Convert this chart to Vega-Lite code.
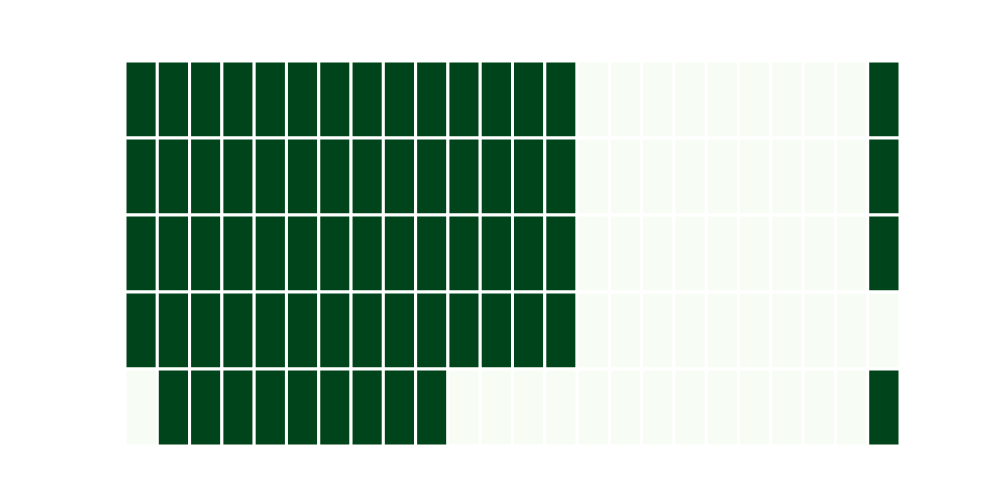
{
  "$schema": "https://vega.github.io/schema/vega-lite/v6.json",
  "width": 775,
  "height": 385,
  "autosize": "none",
  "padding": {"left": 125, "top": 61, "right": 100, "bottom": 54},
  "background": "white",
  "config": {"view": {"stroke": null}},
  "data": {"values": [
    {"r":0,"c":0,"v":1},{"r":0,"c":1,"v":1},{"r":0,"c":2,"v":1},{"r":0,"c":3,"v":1},{"r":0,"c":4,"v":1},{"r":0,"c":5,"v":1},{"r":0,"c":6,"v":1},{"r":0,"c":7,"v":1},{"r":0,"c":8,"v":1},{"r":0,"c":9,"v":1},{"r":0,"c":10,"v":1},{"r":0,"c":11,"v":1},{"r":0,"c":12,"v":1},{"r":0,"c":13,"v":1},{"r":0,"c":14,"v":0},{"r":0,"c":15,"v":0},{"r":0,"c":16,"v":0},{"r":0,"c":17,"v":0},{"r":0,"c":18,"v":0},{"r":0,"c":19,"v":0},{"r":0,"c":20,"v":0},{"r":0,"c":21,"v":0},{"r":0,"c":22,"v":0},{"r":0,"c":23,"v":1},
    {"r":1,"c":0,"v":1},{"r":1,"c":1,"v":1},{"r":1,"c":2,"v":1},{"r":1,"c":3,"v":1},{"r":1,"c":4,"v":1},{"r":1,"c":5,"v":1},{"r":1,"c":6,"v":1},{"r":1,"c":7,"v":1},{"r":1,"c":8,"v":1},{"r":1,"c":9,"v":1},{"r":1,"c":10,"v":1},{"r":1,"c":11,"v":1},{"r":1,"c":12,"v":1},{"r":1,"c":13,"v":1},{"r":1,"c":14,"v":0},{"r":1,"c":15,"v":0},{"r":1,"c":16,"v":0},{"r":1,"c":17,"v":0},{"r":1,"c":18,"v":0},{"r":1,"c":19,"v":0},{"r":1,"c":20,"v":0},{"r":1,"c":21,"v":0},{"r":1,"c":22,"v":0},{"r":1,"c":23,"v":1},
    {"r":2,"c":0,"v":1},{"r":2,"c":1,"v":1},{"r":2,"c":2,"v":1},{"r":2,"c":3,"v":1},{"r":2,"c":4,"v":1},{"r":2,"c":5,"v":1},{"r":2,"c":6,"v":1},{"r":2,"c":7,"v":1},{"r":2,"c":8,"v":1},{"r":2,"c":9,"v":1},{"r":2,"c":10,"v":1},{"r":2,"c":11,"v":1},{"r":2,"c":12,"v":1},{"r":2,"c":13,"v":1},{"r":2,"c":14,"v":0},{"r":2,"c":15,"v":0},{"r":2,"c":16,"v":0},{"r":2,"c":17,"v":0},{"r":2,"c":18,"v":0},{"r":2,"c":19,"v":0},{"r":2,"c":20,"v":0},{"r":2,"c":21,"v":0},{"r":2,"c":22,"v":0},{"r":2,"c":23,"v":1},
    {"r":3,"c":0,"v":1},{"r":3,"c":1,"v":1},{"r":3,"c":2,"v":1},{"r":3,"c":3,"v":1},{"r":3,"c":4,"v":1},{"r":3,"c":5,"v":1},{"r":3,"c":6,"v":1},{"r":3,"c":7,"v":1},{"r":3,"c":8,"v":1},{"r":3,"c":9,"v":1},{"r":3,"c":10,"v":1},{"r":3,"c":11,"v":1},{"r":3,"c":12,"v":1},{"r":3,"c":13,"v":1},{"r":3,"c":14,"v":0},{"r":3,"c":15,"v":0},{"r":3,"c":16,"v":0},{"r":3,"c":17,"v":0},{"r":3,"c":18,"v":0},{"r":3,"c":19,"v":0},{"r":3,"c":20,"v":0},{"r":3,"c":21,"v":0},{"r":3,"c":22,"v":0},{"r":3,"c":23,"v":0},
    {"r":4,"c":0,"v":0},{"r":4,"c":1,"v":1},{"r":4,"c":2,"v":1},{"r":4,"c":3,"v":1},{"r":4,"c":4,"v":1},{"r":4,"c":5,"v":1},{"r":4,"c":6,"v":1},{"r":4,"c":7,"v":1},{"r":4,"c":8,"v":1},{"r":4,"c":9,"v":1},{"r":4,"c":10,"v":0},{"r":4,"c":11,"v":0},{"r":4,"c":12,"v":0},{"r":4,"c":13,"v":0},{"r":4,"c":14,"v":0},{"r":4,"c":15,"v":0},{"r":4,"c":16,"v":0},{"r":4,"c":17,"v":0},{"r":4,"c":18,"v":0},{"r":4,"c":19,"v":0},{"r":4,"c":20,"v":0},{"r":4,"c":21,"v":0},{"r":4,"c":22,"v":0},{"r":4,"c":23,"v":1}
  ]},
  "mark": {"type": "rect", "stroke": "white", "strokeWidth": 3},
  "encoding": {
    "x": {"field": "c", "type": "ordinal", "axis": null, "scale": {"paddingInner": 0, "paddingOuter": 0}},
    "y": {"field": "r", "type": "ordinal", "axis": null, "scale": {"paddingInner": 0, "paddingOuter": 0}},
    "color": {"field": "v", "type": "quantitative", "legend": null, "scale": {"domain": [0, 1], "range": ["#f7fcf5", "#00441b"]}}
  }
}
